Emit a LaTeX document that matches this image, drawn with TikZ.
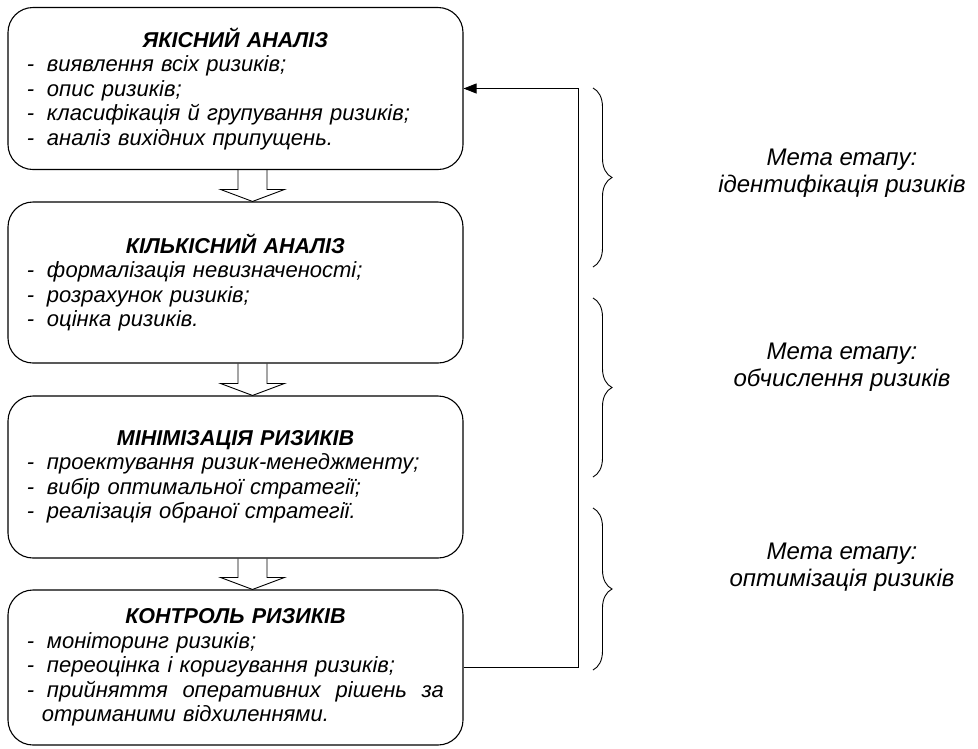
\documentclass[tikz,border=0pt]{standalone}
\usepackage{fontspec}
\setmainfont{Liberation Sans}
\usetikzlibrary{decorations.pathreplacing,arrows.meta,calc}
\newlength{\bw}
\setlength{\bw}{417pt}
\newcommand{\dd}{\makebox[20pt][l]{-}}
\newcommand{\ttl}[1]{\makebox[\bw][c]{\fontsize{21.5}{24.5}\selectfont\bfseries #1}}
\newcommand{\barrow}[2]{%
  \draw[barrowline] ($(#1.south -| ax)+(-14.5,0)$) -- ($(#2.north -| ax)+(-14.5,-12)$)
    -- ($(#2.north -| ax)+(-32,-12)$) -- (#2.north -| ax)
    -- ($(#2.north -| ax)+(32,-12)$) -- ($(#2.north -| ax)+(14.5,-12)$)
    -- ($(#1.south -| ax)+(14.5,0)$);}
\begin{document}
\begin{tikzpicture}[x=1pt,y=-1pt,
  box/.style={draw, line width=1.1pt, rounded corners=25pt, minimum width=455pt,
    inner xsep=19pt, inner ysep=0pt, text width=\bw, align=left,
    font=\fontsize{22}{24.5}\selectfont\itshape},
  barrowline/.style={line width=0.9pt},
  fbline/.style={line width=0.9pt, -{Triangle[length=13pt,width=10pt]}},
  bracestyle/.style={line width=0.9pt, decorate, decoration={brace, amplitude=19pt}},
  goal/.style={align=center, font=\fontsize{24}{27}\selectfont\itshape}]
\useasboundingbox (0,0) rectangle (978,748);
\coordinate (ax) at (252.5,0);
\coordinate (fb) at (578,0);

\node[box, minimum height=162pt] (b1) at (235.5,88.5) {%
  \ttl{ЯКІСНИЙ АНАЛІЗ}\\
  \dd виявлення всіх ризиків;\\
  \dd опис ризиків;\\
  \dd класифікація й групування ризиків;\\
  \dd аналіз вихідних припущень.};
\node[box, minimum height=161pt] (b2) at (235.5,282.5) {%
  \ttl{КІЛЬКІСНИЙ АНАЛІЗ}\\
  \dd формалізація невизначеності;\\
  \dd розрахунок ризиків;\\
  \dd оцінка ризиків.};
\node[box, minimum height=162pt] (b3) at (235.5,477) {%
  \ttl{МІНІМІЗАЦІЯ РИЗИКІВ}\\
  \dd проектування ризик-менеджменту;\\
  \dd вибір оптимальної стратегії;\\
  \dd реалізація обраної стратегії.};
\node[box, minimum height=155pt] (b4) at (235.5,667.5) {%
  \ttl{КОНТРОЛЬ РИЗИКІВ}\\
  \dd моніторинг ризиків;\\
  \dd переоцінка і коригування ризиків;\\
  \makebox[\bw][l]{\dd прийняття\hfill оперативних\hfill рішень\hfill за}\\
  \hspace*{15pt}отриманими відхиленнями.};

\barrow{b1}{b2}
\barrow{b2}{b3}
\barrow{b3}{b4}

\draw[fbline] (b4.east) -- (b4.east -| fb) -- (b1.east -| fb) -- (b1.east);

\coordinate (br1a) at (593,88);  \coordinate (br1b) at (593,267);
\coordinate (br2a) at (593,298); \coordinate (br2b) at (593,477);
\coordinate (br3a) at (593,508); \coordinate (br3b) at (593,670);
\draw[bracestyle] (br1a) -- (br1b);
\draw[bracestyle] (br2a) -- (br2b);
\draw[bracestyle] (br3a) -- (br3b);

\node[goal] (g1) at (842,173) {Мета етапу:\\ідентифікація ризиків};
\node[goal] (g2) at (842,367) {Мета етапу:\\обчислення ризиків};
\node[goal] (g3) at (842,567) {Мета етапу:\\оптимізація ризиків};
\end{tikzpicture}
\end{document}
